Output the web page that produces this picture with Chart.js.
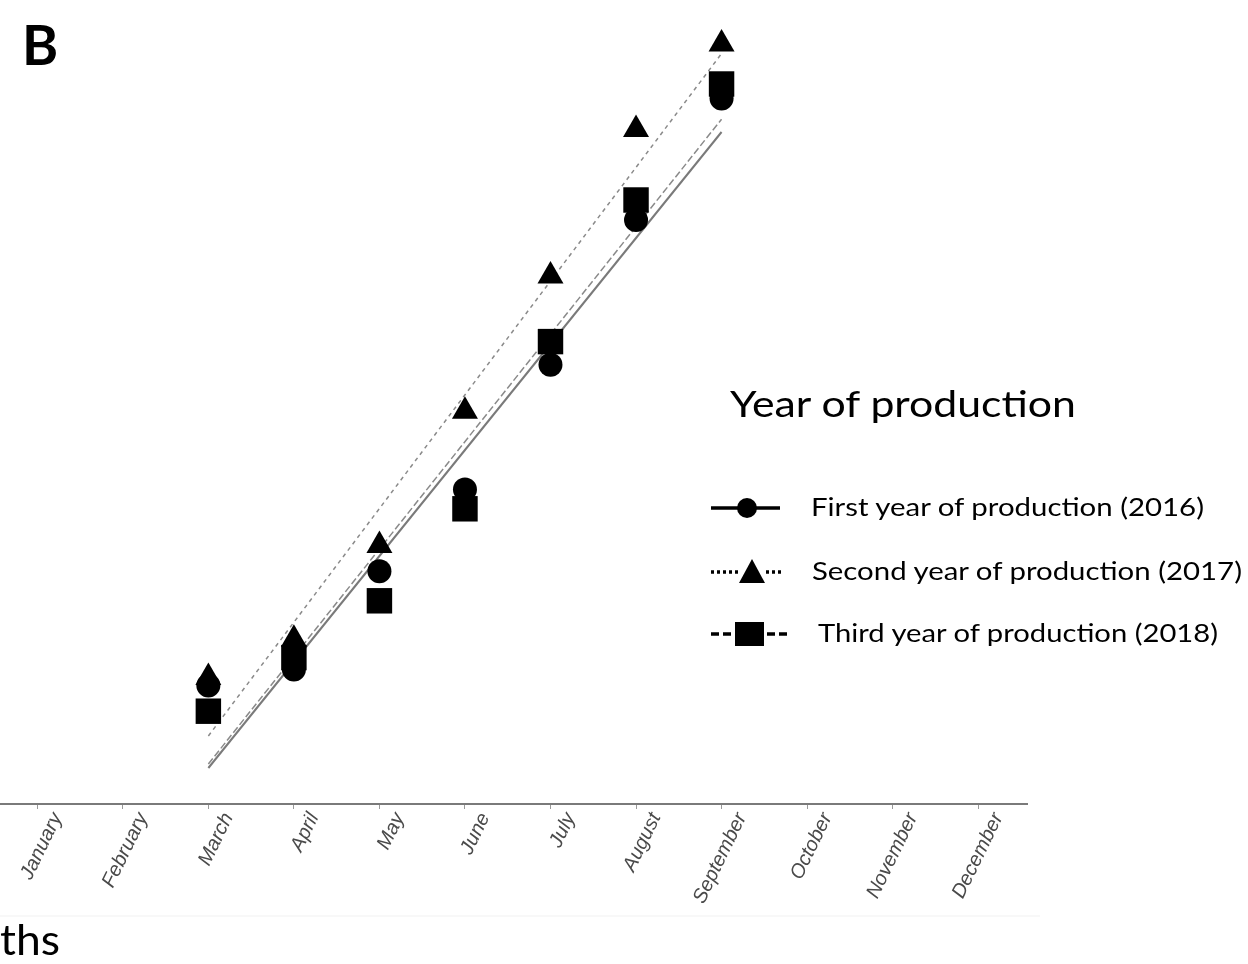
<!DOCTYPE html>
<html>
<head>
<meta charset="utf-8">
<title>Year of production</title>
<script src="https://cdn.jsdelivr.net/npm/chart.js@4.4.1/dist/chart.umd.min.js"></script>
<style>
  html, body { margin: 0; padding: 0; background: #ffffff; }
  #wrap { position: relative; width: 1248px; height: 964px; overflow: hidden; }
  #chart { position: absolute; left: 0; top: 0; }
  #overlay { position: absolute; left: 0; top: 0; pointer-events: none; }
  #overlay text { font-family: Lato, "Open Sans", sans-serif; fill: #000; }
</style>
</head>
<body>
<div id="wrap">
  <canvas id="chart" width="1248" height="964"></canvas>
  <svg id="overlay" width="1248" height="964" viewBox="0 0 1248 964">
    <text x="22" y="65" font-size="55" font-weight="700">B</text>

    <text x="730" y="417" font-size="36" textLength="346" lengthAdjust="spacingAndGlyphs">Year of production</text>

    <!-- legend keys -->
    <g stroke="#000" stroke-width="3.5" fill="#000">
      <line x1="711" y1="508" x2="780" y2="508"/>
      <circle cx="747" cy="508" r="10" stroke="none"/>

      <line x1="711" y1="572" x2="738" y2="572" stroke-dasharray="3 3"/>
      <line x1="766" y1="572" x2="782" y2="572" stroke-dasharray="3 3"/>
      <polygon points="752,559 739,583 765,583" stroke="none"/>

      <line x1="711" y1="634" x2="733" y2="634" stroke-dasharray="8 4"/>
      <line x1="767" y1="634" x2="791" y2="634" stroke-dasharray="8 4"/>
      <rect x="735" y="622" width="29" height="24" stroke="none"/>
    </g>
    <text x="811" y="516" font-size="25" textLength="393" lengthAdjust="spacingAndGlyphs">First year of production (2016)</text>
    <text x="812" y="580" font-size="25" textLength="430" lengthAdjust="spacingAndGlyphs">Second year of production (2017)</text>
    <text x="818" y="642" font-size="25" textLength="400" lengthAdjust="spacingAndGlyphs">Third year of production (2018)</text>

    <line x1="0" y1="916" x2="1040" y2="916" stroke="#f1f1f1" stroke-width="1"/>
    <text x="0" y="955" font-size="42" textLength="60" lengthAdjust="spacingAndGlyphs">ths</text>
  </svg>
</div>
<script>
// Months along the horizontal axis
const months = ['January', 'February', 'March', 'April', 'May', 'June',
                'July', 'August', 'September', 'October', 'November', 'December'];

// Sampled months and observed values for each production year
const sampledMonths = ['March', 'April', 'May', 'June', 'July', 'August', 'September'];
const firstYear2016 = [14.8, 16.8, 29.1, 39.3, 54.9, 73.0, 88.2];
const secondYear2017 = [15.8, 20.6, 32.3, 49.1, 66.0, 84.3, 95.0];
const thirdYear2018 = [11.6, 18.3, 25.4, 36.9, 57.8, 75.5, 90.0];

// Fitted trend lines (start and end values)
const trendMonths = ['March', 'September'];
const trend2016 = [4.5, 84.0];
const trend2017 = [8.5, 93.8];
const trend2018 = [5.0, 85.6];

const toPoints = (labels, values) =>
  labels.map((m, i) => ({ x: months.indexOf(m), y: values[i] }));

const markerSet = (label, values, style, radius) => ({
  label,
  data: toPoints(sampledMonths, values),
  pointStyle: style,
  pointRadius: radius,
  pointHoverRadius: radius,
  backgroundColor: '#000000',
  borderColor: '#000000',
  pointBorderWidth: 0,
  showLine: false,
  order: 0
});

const trendSet = (label, values, color, width, dash) => ({
  label,
  data: toPoints(trendMonths, values),
  showLine: true,
  borderColor: color,
  borderWidth: width,
  borderDash: dash,
  pointRadius: 0,
  pointHoverRadius: 0,
  fill: false,
  order: 1
});

new Chart(document.getElementById('chart'), {
  type: 'scatter',
  data: {
    datasets: [
      markerSet('Second year of production (2017)', secondYear2017, 'triangle', 15),
      markerSet('First year of production (2016)', firstYear2016, 'circle', 12),
      markerSet('Third year of production (2018)', thirdYear2018, 'rect', 18),
      trendSet('Trend 2016', trend2016, '#7a7a7a', 2, []),
      trendSet('Trend 2017', trend2017, '#8a8a8a', 1.5, [4, 4]),
      trendSet('Trend 2018', trend2018, '#8a8a8a', 1.5, [7, 3])
    ]
  },
  options: {
    responsive: false,
    devicePixelRatio: 1,
    animation: false,
    events: [],
    layout: { autoPadding: false, padding: { left: 0, right: 221, top: 0, bottom: 0 } },
    plugins: {
      legend: { display: false },
      tooltip: { enabled: false }
    },
    scales: {
      x: {
        type: 'linear',
        min: -0.436,
        max: 11.571,
        afterBuildTicks: (axis) => {
          axis.ticks = months.map((_, i) => ({ value: i }));
        },
        afterFit: (axis) => {
          axis.height = 160;
          axis.paddingLeft = 0;
          axis.paddingRight = 0;
        },
        grid: {
          display: true,
          drawOnChartArea: false,
          drawTicks: true,
          tickLength: 5,
          color: '#9a9a9a',
          lineWidth: 1
        },
        border: { display: true, color: '#7a7a7a', width: 2 },
        ticks: {
          autoSkip: false,
          maxRotation: 64,
          minRotation: 64,
          labelOffset: 20,
          padding: 0,
          color: '#4a4a4a',
          font: { family: '"Liberation Sans", Arial, sans-serif', size: 20, style: 'italic' },
          callback: (value, index) => months[index]
        }
      },
      y: {
        display: false,
        min: 0,
        max: 100.5
      }
    }
  }
});
</script>
</body>
</html>
